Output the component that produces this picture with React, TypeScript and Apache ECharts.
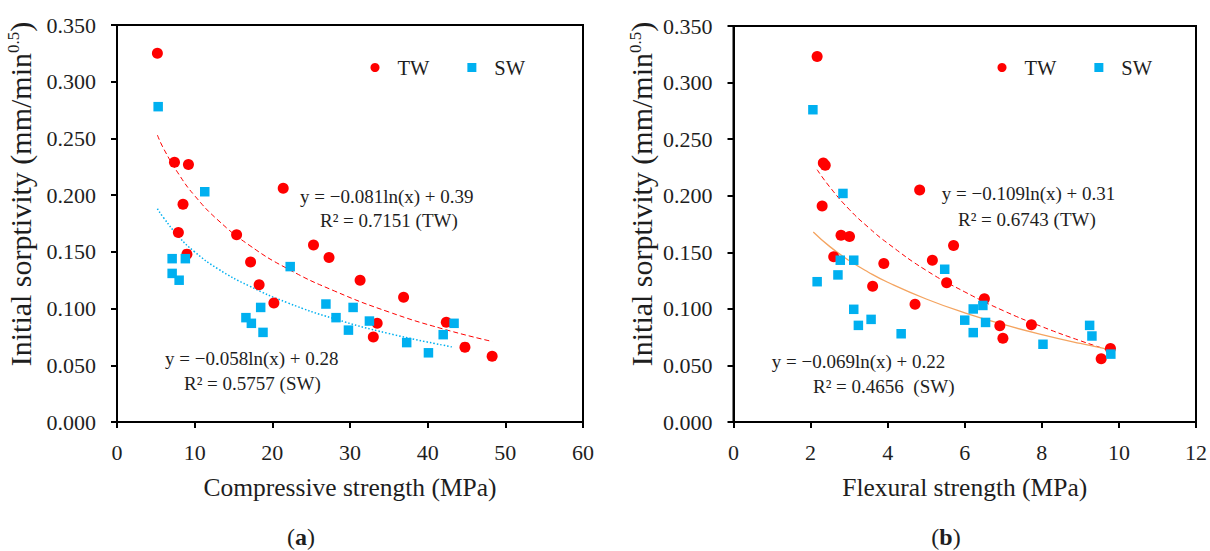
import React, { useEffect, useRef } from "react";
import * as echarts from "echarts";

// ---------- data ----------
// Panel (a): compressive strength (MPa) vs initial sorptivity
const aTW: [number, number][] = [
  [5.2, 0.325], [7.4, 0.229], [9.2, 0.227], [8.5, 0.192], [7.9, 0.167],
  [9.0, 0.148], [21.4, 0.206], [15.4, 0.165], [17.2, 0.141], [18.3, 0.121],
  [20.2, 0.105], [25.3, 0.156], [27.3, 0.145], [31.3, 0.125], [33.5, 0.087],
  [33.0, 0.075], [36.9, 0.110], [42.4, 0.088], [44.8, 0.066], [48.3, 0.058],
];
const aSW: [number, number][] = [
  [5.3, 0.278], [11.3, 0.203], [7.1, 0.144], [8.8, 0.144], [7.1, 0.131],
  [8.0, 0.125], [22.3, 0.137], [18.5, 0.101], [16.6, 0.092], [17.3, 0.087],
  [18.8, 0.079], [26.9, 0.104], [28.2, 0.092], [30.4, 0.101], [29.8, 0.081],
  [32.5, 0.089], [37.3, 0.070], [40.1, 0.061], [42.0, 0.077], [43.4, 0.087],
];
// trend curves as drawn in (a)
const aTWFit: [number, number][] = [
  [5.2, 0.253], [6, 0.241], [8, 0.218], [10, 0.1995], [13, 0.178], [17, 0.156],
  [22, 0.135], [28, 0.1155], [35, 0.097], [42, 0.082], [48.3, 0.071],
];
const aSWFit: [number, number][] = [
  [5.2, 0.188], [6, 0.180], [8, 0.163], [10, 0.150], [13, 0.135], [17, 0.120],
  [22, 0.105], [28, 0.091], [35, 0.078], [43.3, 0.066],
];

// Panel (b): flexural strength (MPa) vs initial sorptivity
const bTW: [number, number][] = [
  [2.17, 0.323], [2.33, 0.229], [2.38, 0.227], [2.30, 0.191], [2.79, 0.165],
  [3.01, 0.164], [2.60, 0.146], [3.90, 0.140], [3.61, 0.120], [4.71, 0.104],
  [5.16, 0.143], [5.71, 0.156], [5.53, 0.123], [4.83, 0.205], [6.51, 0.109],
  [6.91, 0.085], [6.99, 0.074], [7.73, 0.086], [9.54, 0.056], [9.78, 0.065],
];
const bSW: [number, number][] = [
  [2.06, 0.276], [2.84, 0.202], [2.77, 0.143], [3.12, 0.143], [2.17, 0.124],
  [2.71, 0.130], [3.12, 0.0996], [3.24, 0.0854], [3.57, 0.0907], [4.35, 0.078],
  [5.48, 0.135], [6.22, 0.0999], [6.47, 0.103], [6.00, 0.090], [6.54, 0.088],
  [6.22, 0.079], [8.03, 0.0687], [9.24, 0.0854], [9.30, 0.076], [9.79, 0.060],
];
const bTWFit: [number, number][] = [
  [2.17, 0.223], [2.5, 0.2076], [3, 0.188], [3.5, 0.172], [4, 0.158], [5, 0.134],
  [6, 0.115], [7, 0.0984], [8, 0.0843], [9, 0.0718], [9.78, 0.063],
];
const bSWFit: [number, number][] = [
  [2.07, 0.168], [2.5, 0.155], [3, 0.1427], [3.5, 0.1324], [4, 0.1235], [5, 0.1087],
  [6, 0.0965], [7, 0.0862], [8, 0.0773], [9, 0.0694], [9.76, 0.064],
];

const legendNames = ["TW", "SW"];
const xTitles = ["Compressive strength (MPa)", "Flexural strength (MPa)"];
const panelLabels = ["a", "b"];
const eqTexts = [
  "y = \u22120.081ln(x) + 0.39",
  "R\u00B2 = 0.7151 (TW)",
  "y = \u22120.058ln(x) + 0.28",
  "R\u00B2 = 0.5757 (SW)",
  "y = \u22120.109ln(x) + 0.31",
  "R\u00B2 = 0.6743 (TW)",
  "y = \u22120.069ln(x) + 0.22",
  "R\u00B2 = 0.4656  (SW)",
];

const FONT = "Liberation Serif";
const TXT = "#1e1e1e";
const RED = "#FF0000";
const BLUE = "#00B0F0";
const ORANGE = "#F4A460";

export default function App() {
  const ref = useRef<HTMLDivElement>(null);

  useEffect(() => {
    document.body.style.margin = "0";
    if (!ref.current) return;
    const chart = echarts.init(ref.current, undefined, { renderer: "svg" });

    const grids = [
      { left: 117, top: 25, width: 466, height: 397 },
      { left: 733.5, top: 26, width: 466.5, height: 396 },
    ];

    const xAxisBase = (idx: number, max: number, interval: number) => ({
      type: "value",
      gridIndex: idx,
      min: 0,
      max,
      interval,
      name: xTitles[idx],
      nameLocation: "middle",
      nameGap: 52,
      nameTextStyle: { fontFamily: FONT, fontSize: 25.5, color: TXT },
      axisLine: { show: true, onZero: false, lineStyle: { color: "#000", width: 2 } },
      axisTick: { show: true, inside: false, length: 6, lineStyle: { color: "#000", width: 2 } },
      axisLabel: { fontFamily: FONT, fontSize: 22, color: TXT, margin: 19 },
      splitLine: { show: false },
    });
    const yAxisBase = (idx: number) => ({
      type: "value",
      gridIndex: idx,
      min: 0,
      max: 0.35,
      interval: 0.05,
      axisLine: { show: true, onZero: false, lineStyle: { color: "#000", width: 2 } },
      axisTick: { show: true, inside: false, length: 6, lineStyle: { color: "#000", width: 2 } },
      axisLabel: {
        fontFamily: FONT,
        fontSize: 22,
        color: TXT,
        margin: 21,
        formatter: (v: number) => v.toFixed(3),
      },
      splitLine: { show: false },
    });

    const fitSeries = (
      name: string,
      idx: number,
      data: [number, number][],
      color: string,
      width: number,
      type: any
    ) => ({
      name,
      type: "line",
      xAxisIndex: idx,
      yAxisIndex: idx,
      data,
      smooth: true,
      showSymbol: false,
      symbol: "none",
      silent: true,
      z: 1,
      lineStyle: { color, width, type },
    });
    const scatterSeries = (name: string, idx: number, data: [number, number][]) => ({
      name,
      type: "scatter",
      xAxisIndex: idx,
      yAxisIndex: idx,
      data,
      symbol: name === "TW" ? "circle" : "rect",
      symbolSize: name === "TW" ? 11 : 9.5,
      itemStyle: { color: name === "TW" ? RED : BLUE, opacity: 1 },
      z: 3,
    });

    const legendBase = (left: number) => ({
      left,
      top: 57,
      padding: 0,
      orient: "horizontal",
      itemWidth: 9,
      itemHeight: 9,
      itemGap: 38,
      selectedMode: false,
      data: [
        { name: legendNames[0], icon: "circle" },
        { name: legendNames[1], icon: "rect" },
      ],
      textStyle: { fontFamily: FONT, fontSize: 20.5, color: TXT, padding: [0, 0, 0, 13] },
    });

    const eqPos: [number, number][] = [
      [300, 196], [320, 220], [165, 358.5], [184, 383.5],
      [941.7, 193], [958, 219], [771.7, 361.5], [813, 386],
    ];

    const graphics: any[] = eqTexts.map((t, i) => ({
      type: "text",
      x: eqPos[i][0],
      y: eqPos[i][1],
      silent: true,
      style: {
        text: t,
        fill: TXT,
        fontFamily: FONT,
        fontSize: 19,
        align: "left",
        verticalAlign: "middle",
      },
    }));

    const yTitlePos: [number, number][] = [[20, 194], [641.5, 194]];
    yTitlePos.forEach(([x, y]) => {
      graphics.push({
        type: "text",
        x,
        y,
        rotation: Math.PI / 2,
        silent: true,
        style: {
          text: "Initial sorptivity (mm/min{sup|0.5})",
          fill: TXT,
          fontFamily: FONT,
          fontSize: 30,
          align: "center",
          verticalAlign: "middle",
          rich: {
            sup: { fontFamily: FONT, fontSize: 17, fill: TXT, verticalAlign: "top" },
          },
        },
      });
    });

    const panelPos: [number, number][] = [[301, 537], [946, 537]];
    panelPos.forEach(([x, y], i) => {
      graphics.push({
        type: "text",
        x,
        y,
        silent: true,
        style: {
          text: `({b|${panelLabels[i]}})`,
          fill: TXT,
          fontFamily: FONT,
          fontSize: 24,
          align: "center",
          verticalAlign: "middle",
          rich: {
            b: { fontFamily: FONT, fontSize: 24, fontWeight: "bold", fill: TXT },
          },
        },
      });
    });

    chart.setOption({
      animation: false,
      backgroundColor: "#fff",
      textStyle: { fontFamily: FONT },
      grid: grids.map((g) => ({
        ...g,
        show: true,
        borderColor: "#000",
        borderWidth: 2,
        backgroundColor: "transparent",
        containLabel: false,
      })),
      xAxis: [xAxisBase(0, 60, 10), xAxisBase(1, 12, 2)],
      yAxis: [yAxisBase(0), yAxisBase(1)],
      legend: [legendBase(370.5), legendBase(997.5)],
      series: [
        fitSeries("TW trend (a)", 0, aTWFit, RED, 1, [5, 3]),
        fitSeries("SW trend (a)", 0, aSWFit, BLUE, 1.5, [1.5, 2]),
        fitSeries("TW trend (b)", 1, bTWFit, RED, 1, [5, 3]),
        fitSeries("SW trend (b)", 1, bSWFit, ORANGE, 1.3, "solid"),
        scatterSeries("TW", 0, aTW),
        scatterSeries("SW", 0, aSW),
        scatterSeries("TW", 1, bTW),
        scatterSeries("SW", 1, bSW),
      ],
      graphic: graphics,
    });

    return () => chart.dispose();
  }, []);

  return <div ref={ref} style={{ width: 1210, height: 551 }} />;
}
